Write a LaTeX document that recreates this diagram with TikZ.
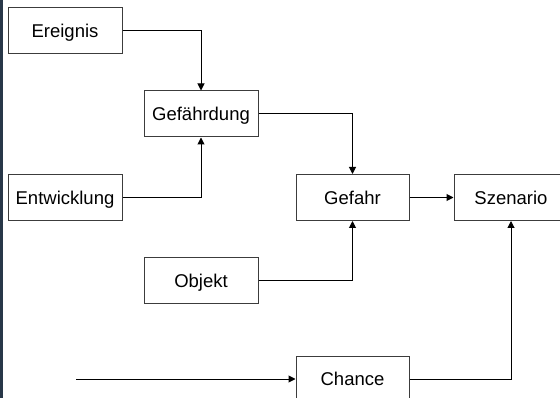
\documentclass[tikz,border=0pt]{standalone}
\usepackage{fontspec}
\setmainfont{Liberation Sans}
\usetikzlibrary{arrows.meta}
\definecolor{barcol}{RGB}{40,55,72}
\definecolor{boxline}{RGB}{60,60,60}
\tikzset{
  box/.style={draw=boxline, line width=1pt, minimum width=114pt, minimum height=46pt, inner sep=0pt, text depth=0pt, font=\fontsize{18.5}{20}\selectfont},
  conn/.style={draw=black, line width=1pt, -{Triangle[length=7pt,width=7pt]}}
}
\begin{document}
\begin{tikzpicture}[x=1pt,y=-1pt]
\useasboundingbox (0,0) rectangle (560,398);
\clip (0,0) rectangle (560,398);
\fill[white] (0,0) rectangle (560,398);
\fill[barcol] (0,0) rectangle (3,398);
\node[box] (ereignis) at (65,31) {Ereignis};
\node[box] (gefaehrdung) at (201,114) {Gefährdung};
\node[box] (entwicklung) at (65,197.5) {Entwicklung};
\node[box] (objekt) at (201,281) {Objekt};
\node[box, minimum width=113pt] (gefahr) at (352.5,197.5) {Gefahr};
\node[box] (szenario) at (511,197.5) {Szenario};
\node[box, minimum width=113pt] (chance) at (352.5,379) {Chance};
\coordinate (start) at (76,379);
\draw[conn] (ereignis.east) -| (gefaehrdung.north);
\draw[conn] (entwicklung.east) -| (gefaehrdung.south);
\draw[conn] (gefaehrdung.east) -| (gefahr.north);
\draw[conn] (objekt.east) -| (gefahr.south);
\draw[conn] (gefahr.east) -- (szenario.west);
\draw[conn] (chance.east) -| (szenario.south);
\draw[conn] (start) -- (chance.west);
\end{tikzpicture}
\end{document}
